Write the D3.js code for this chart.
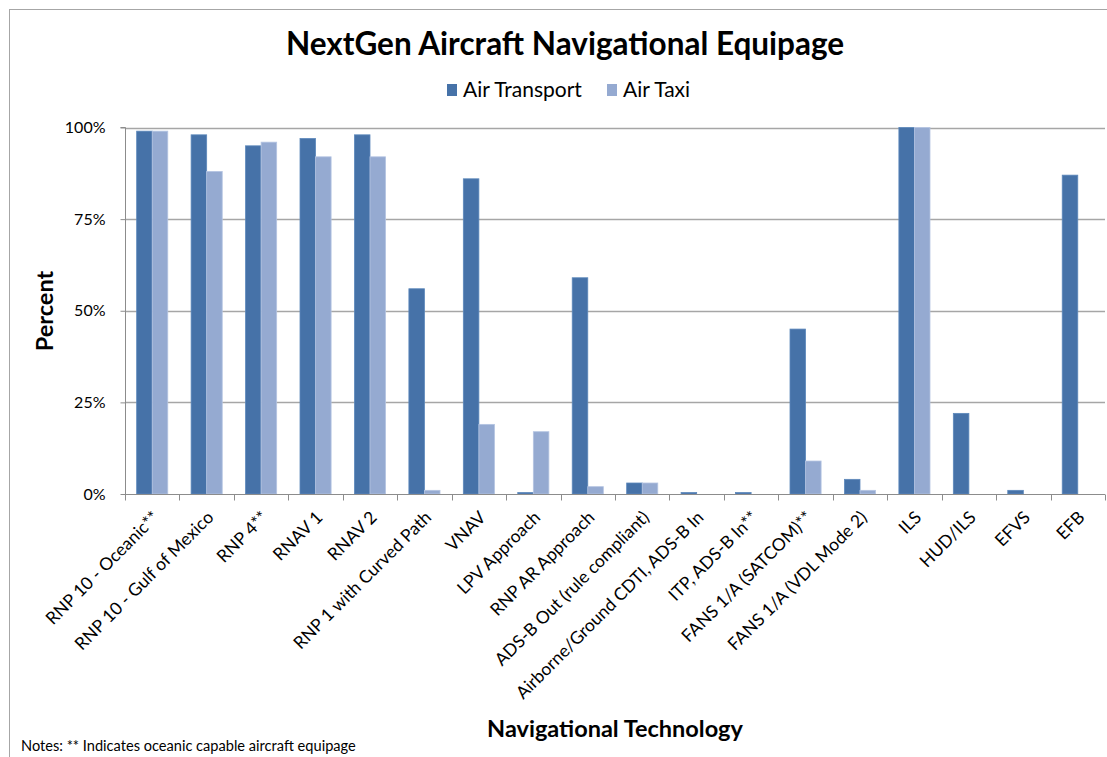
<!DOCTYPE html>
<html>
<head>
<meta charset="utf-8">
<script src="https://cdn.jsdelivr.net/npm/d3@7"></script>
<style>
  body { margin: 0; background: #fff; }
  text { font-family: Lato, "Open Sans", sans-serif; fill: #000; }
</style>
</head>
<body>
<svg id="chart" width="1107" height="757"></svg>
<script>
// Chart data
const categories = [
  "RNP 10 - Oceanic**", "RNP 10 - Gulf of Mexico", "RNP 4**", "RNAV 1", "RNAV 2",
  "RNP 1 with Curved Path", "VNAV", "LPV Approach", "RNP AR Approach",
  "ADS-B Out (rule compliant)", "Airborne/Ground CDTI, ADS-B In", "ITP, ADS-B In**",
  "FANS 1/A (SATCOM)**", "FANS 1/A (VDL Mode 2)", "ILS", "HUD/ILS", "EFVS", "EFB"
];
const airTransport = [99, 98, 95, 97, 98, 56, 86, 0.4, 59, 3, 0.4, 0.4, 45, 4, 100, 22, 1, 87];
const airTaxi = [99, 88, 96, 92, 92, 1, 19, 17, 2, 3, 0, 0, 9, 1, 100, 0, 0, 0];
const seriesNames = ["Air Transport", "Air Taxi"];
const yTicks = [0, 25, 50, 75, 100];

const colors = ["#4672a8", "#95aad1"];
const strokes = ["#5d88bb", "#b4c4e2"];

const svg = d3.select("#chart");
const svgW = 1107, svgH = 757;
const plotLeft = 125, plotRight = 1105, plotTop = 127.5, plotBottom = 494;

// Chart frame
svg.append("rect")
  .attr("x", 9.5).attr("y", 9.5)
  .attr("width", svgW + 20).attr("height", svgH + 20)
  .attr("fill", "none").attr("stroke", "#a6a6a6");

// Scales
const x0 = d3.scaleBand().domain(categories).range([plotLeft, plotRight]);
const barW = x0.step() / (2 + 1.5); // gap = 150% of bar width
const x1 = d3.scaleBand().domain(seriesNames).range([0, 2 * barW]);
const y = d3.scaleLinear().domain([0, 100]).range([plotBottom, plotTop]);

// Gridlines
svg.append("g")
  .selectAll("line")
  .data(yTicks.filter((d) => d > 0))
  .join("line")
  .attr("x1", plotLeft).attr("x2", plotRight)
  .attr("y1", (d) => Math.round(y(d)) + 0.5)
  .attr("y2", (d) => Math.round(y(d)) + 0.5)
  .attr("stroke", "#a6a6a6")
  .attr("stroke-width", 1.3);

// Bars
const groups = svg.append("g")
  .selectAll("g")
  .data(categories)
  .join("g")
  .attr("transform", (d) => `translate(${x0(d) + (x0.step() - 2 * barW) / 2},0)`);

groups.selectAll("rect")
  .data((d, i) => [
    { s: 0, v: airTransport[i] },
    { s: 1, v: airTaxi[i] }
  ].filter((e) => e.v > 0))
  .join("rect")
  .attr("x", (d) => x1(seriesNames[d.s]))
  .attr("width", barW)
  .attr("y", (d) => y(d.v))
  .attr("height", (d) => Math.max(1, y(0) - y(d.v)))
  .attr("fill", (d) => colors[d.s])
  .attr("stroke", (d) => strokes[d.s])
  .attr("stroke-width", 0.8);

// Y axis
const yAxis = d3.axisLeft(y)
  .tickValues(yTicks)
  .tickFormat((d) => d + "%")
  .tickSize(5)
  .tickPadding(15);
const yG = svg.append("g")
  .attr("transform", `translate(${plotLeft + 0.5},0)`)
  .call(yAxis);
yG.select(".domain").attr("stroke", "#8c8c8c").attr("d", `M-5,${plotTop}H0V${plotBottom}`);
yG.selectAll(".tick line").attr("stroke", "#8c8c8c");
yG.selectAll(".tick text")
  .style("font-family", "Lato, sans-serif")
  .style("font-size", "16px")
  .attr("fill", "#000");

// X axis
const xG = svg.append("g").attr("transform", `translate(0,${plotBottom + 0.5})`);
xG.append("line")
  .attr("x1", plotLeft).attr("x2", plotRight)
  .attr("stroke", "#8c8c8c");
xG.selectAll(".xtick")
  .data(d3.range(categories.length + 1))
  .join("line")
  .attr("class", "xtick")
  .attr("x1", (i) => Math.round(plotLeft + i * x0.step()) + 0.5)
  .attr("x2", (i) => Math.round(plotLeft + i * x0.step()) + 0.5)
  .attr("y1", 0).attr("y2", 6)
  .attr("stroke", "#8c8c8c");
xG.selectAll(".xlabel")
  .data(categories)
  .join("text")
  .attr("class", "xlabel")
  .attr("text-anchor", "end")
  .attr("transform", (d) => `translate(${x0(d) + x0.step() / 2 + 8},${24}) rotate(-45)`)
  .style("font-size", "17.5px")
  .text((d) => d);

// Title
svg.append("text")
  .attr("x", 565).attr("y", 55)
  .attr("text-anchor", "middle")
  .style("font-size", "31.5px")
  .style("font-weight", "bold")
  .text("NextGen Aircraft Navigational Equipage");

// Legend
const legend = svg.append("g").attr("transform", "translate(447,84)");
const legendX = [0, 160];
seriesNames.forEach((name, i) => {
  legend.append("rect")
    .attr("x", legendX[i]).attr("y", 0)
    .attr("width", 10).attr("height", 12)
    .attr("fill", colors[i]);
  legend.append("text")
    .attr("x", legendX[i] + 16).attr("y", 13)
    .style("font-size", "21px")
    .text(name);
});

// Axis titles
svg.append("text")
  .attr("transform", "translate(53,311) rotate(-90)")
  .attr("text-anchor", "middle")
  .style("font-size", "23.5px")
  .style("font-weight", "bold")
  .text("Percent");

svg.append("text")
  .attr("x", 615).attr("y", 737)
  .attr("text-anchor", "middle")
  .style("font-size", "23.5px")
  .style("font-weight", "bold")
  .text("Navigational Technology");

// Notes
svg.append("text")
  .attr("x", 21).attr("y", 751)
  .style("font-size", "14.6px")
  .text("Notes: ** Indicates oceanic capable aircraft equipage");
</script>
</body>
</html>
